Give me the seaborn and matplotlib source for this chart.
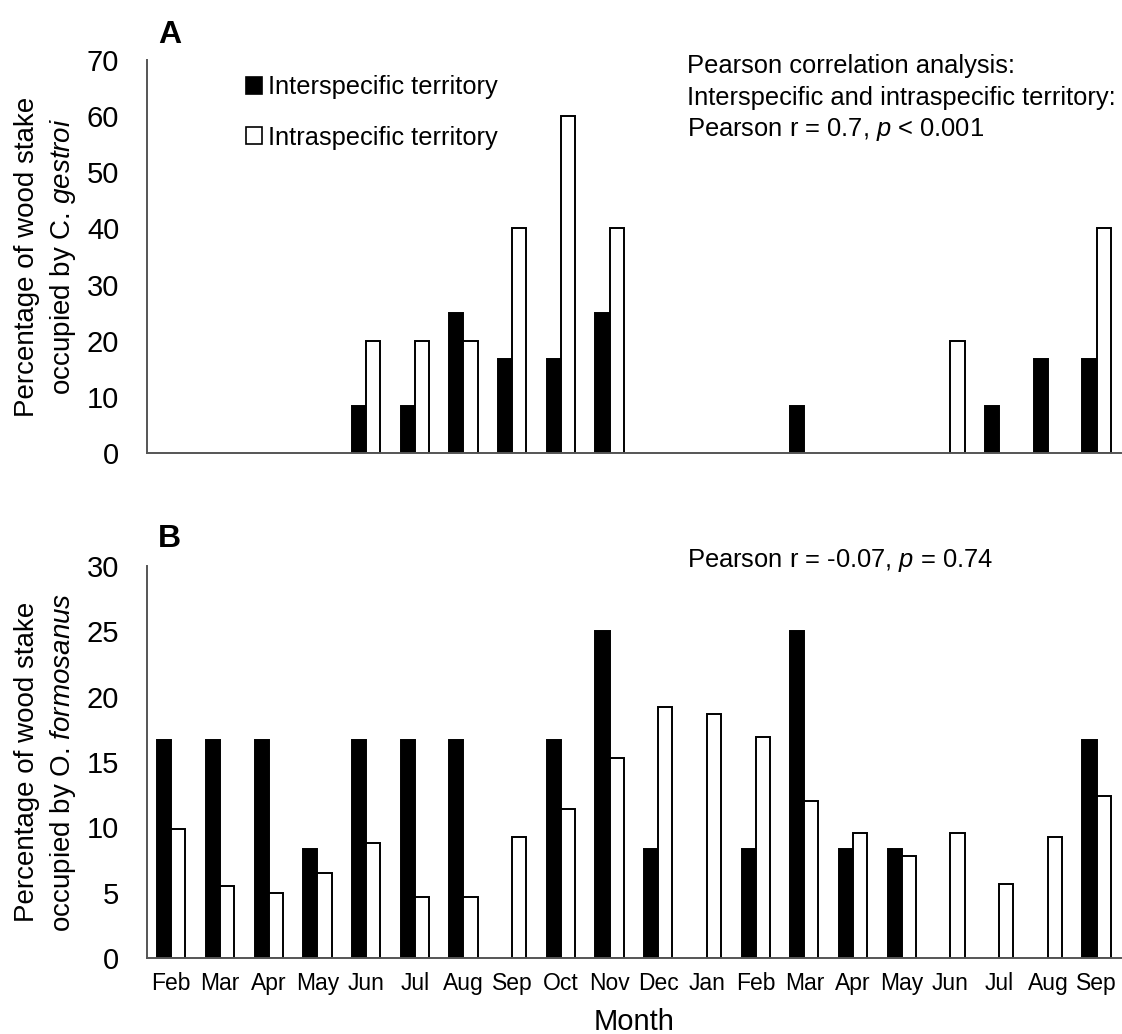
import matplotlib
matplotlib.use("Agg")
import matplotlib.pyplot as plt
from matplotlib.patches import Patch
import seaborn as sns
import pandas as pd

# Sampling months (Feb of year 1 through Sep of year 2)
months = ["Feb", "Mar", "Apr", "May", "Jun", "Jul", "Aug", "Sep", "Oct", "Nov",
          "Dec", "Jan", "Feb", "Mar", "Apr", "May", "Jun", "Jul", "Aug", "Sep"]

# Panel A: C. gestroi occupancy (%)
cg_inter = [0, 0, 0, 0, 8.33, 8.33, 25, 16.67, 16.67, 25,
            0, 0, 0, 8.33, 0, 0, 0, 8.33, 16.67, 16.67]
cg_intra = [0, 0, 0, 0, 20, 20, 20, 40, 60, 40,
            0, 0, 0, 0, 0, 0, 20, 0, 0, 40]

# Panel B: O. formosanus occupancy (%)
of_inter = [16.67, 16.67, 16.67, 8.33, 16.67, 16.67, 16.67, 0, 16.67, 25,
            8.33, 0, 8.33, 25, 8.33, 8.33, 0, 0, 0, 16.67]
of_intra = [9.9, 5.5, 5.0, 6.5, 8.8, 4.7, 4.7, 9.3, 11.4, 15.3,
            19.2, 18.7, 16.9, 12.0, 9.6, 7.8, 9.6, 5.7, 9.3, 12.4]

series_names = ["Interspecific territory", "Intraspecific territory"]
series_colors = ["black", "white"]

sns.set_style("white")
plt.rcParams["font.family"] = ["Liberation Sans", "DejaVu Sans"]
plt.rcParams["mathtext.fontset"] = "custom"
plt.rcParams["mathtext.rm"] = "Liberation Sans"
plt.rcParams["mathtext.it"] = "Liberation Sans:italic"
plt.rcParams["text.color"] = "black"
plt.rcParams["axes.labelcolor"] = "black"
plt.rcParams["xtick.color"] = "black"
plt.rcParams["ytick.color"] = "black"


def long_table(inter, intra):
    pos = [str(i) for i in range(len(months))]
    return pd.DataFrame({
        "pos": pos * 2,
        "value": list(inter) + list(intra),
        "territory": [series_names[0]] * len(pos) + [series_names[1]] * len(pos),
    })


fig = plt.figure(figsize=(11.22, 10.34), dpi=100)
ax_a = fig.add_axes([0.1310, 0.5619, 0.868, 0.380])
ax_b = fig.add_axes([0.1310, 0.0735, 0.868, 0.379])

order = [str(i) for i in range(len(months))]
panels = [
    (ax_a, cg_inter, cg_intra, 70, 10, "occupied by C. $\\it{gestroi}$"),
    (ax_b, of_inter, of_intra, 30, 5, "occupied by O. $\\it{formosanus}$"),
]

for ax, inter, intra, ymax, step, line2 in panels:
    df = long_table(inter, intra)
    sns.barplot(data=df, x="pos", y="value", hue="territory", order=order,
                hue_order=series_names, palette=series_colors, saturation=1,
                width=0.58, gap=0, edgecolor="black", linewidth=1.4,
                legend=False, ax=ax)
    # empty bars leave no outline on the baseline
    for p in ax.patches:
        if p.get_height() == 0:
            p.set_linewidth(0)
    ax.set_xlim(-0.5, len(months) - 0.5)
    ax.set_ylim(0, ymax)
    ax.set_yticks(range(0, ymax + 1, step))
    ax.tick_params(axis="y", length=0, pad=20, labelsize=21)
    ax.tick_params(axis="x", length=0, pad=10, labelsize=16.5)
    for side in ["top", "right"]:
        ax.spines[side].set_visible(False)
    for side in ["left", "bottom"]:
        ax.spines[side].set_color("#555555")
        ax.spines[side].set_linewidth(1.4)
    ax.set_xlabel("")
    ax.set_ylabel("Percentage of wood stake\n" + line2, fontsize=20,
                  va="center", linespacing=1.35)
    ax.yaxis.set_label_coords(-0.1037, 0.5)

ax_a.set_xticklabels([])
ax_b.set_xticklabels(months)

# legend for panel A
handles = [Patch(facecolor=c, edgecolor="black", linewidth=1.2) for c in series_colors]
ax_a.legend(handles, series_names, loc="upper left", bbox_to_anchor=(0.1016, 0.962),
            frameon=False, fontsize=18.3, handlelength=0.62, handleheight=0.65,
            handletextpad=0.25, labelspacing=1.05, borderpad=0, borderaxespad=0)

# correlation annotations
W, H = 1122, 1034
fig.text(687 / W, 1 - 73 / H, "Pearson correlation analysis:", fontsize=18.4, va="baseline")
fig.text(687 / W, 1 - 105 / H, "Interspecific and intraspecific territory:", fontsize=18.4, va="baseline")
fig.text(687 / W, 1 - 136 / H, "Pearson r = 0.7, $\\it{p}$ < 0.001", fontsize=18.4, va="baseline")
fig.text(687 / W, 1 - 567 / H, "Pearson r = -0.07, $\\it{p}$ = 0.74", fontsize=18.4, va="baseline")

# panel letters
fig.text(158 / W, 1 - 43 / H, "A", fontsize=23, fontweight="bold", va="baseline")
fig.text(158 / W, 1 - 547 / H, "B", fontsize=23, fontweight="bold", va="baseline")

fig.text(634 / W, 1 - 1022 / H, "Month", fontsize=21, ha="center", va="center")

fig.savefig("out.png", dpi=100, facecolor="white")
